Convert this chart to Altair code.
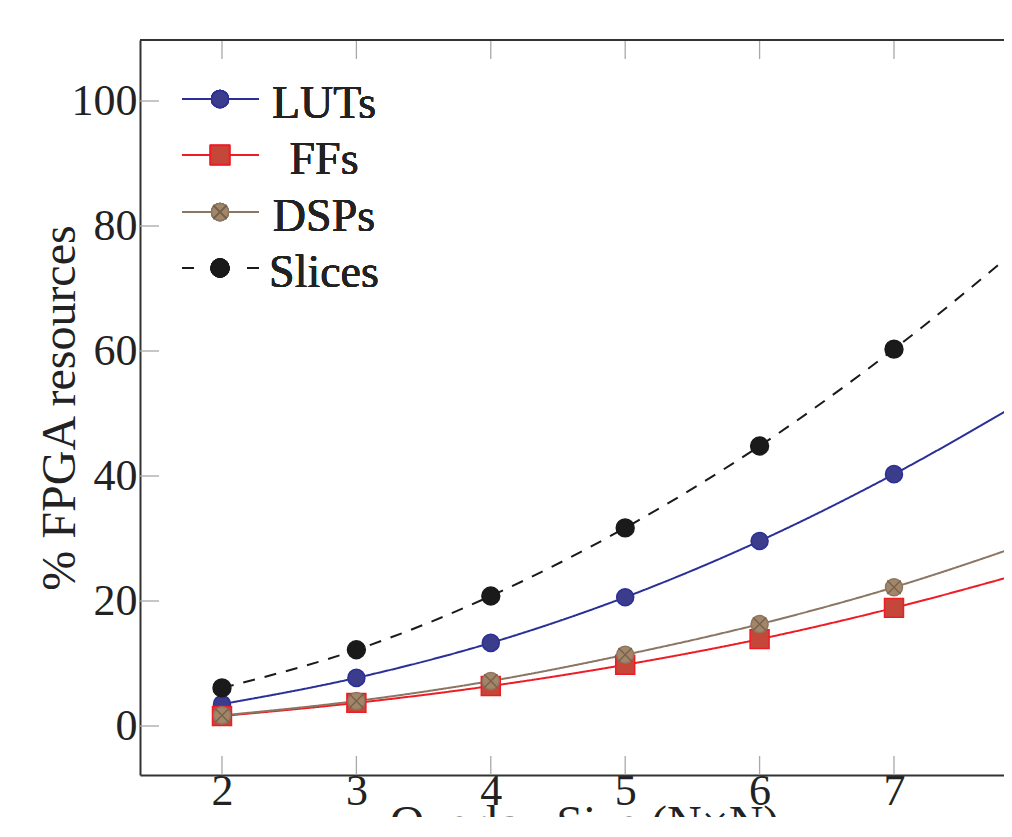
import altair as alt
import pandas as pd

# ---- data ----
sizes = [2, 3, 4, 5, 6, 7, 8]
luts = [3.5, 7.7, 13.3, 20.6, 29.6, 40.3, 52.5]
ffs = [1.6, 3.7, 6.4, 9.8, 13.9, 18.9, 24.7]
dsps = [1.7, 4.0, 7.2, 11.4, 16.3, 22.2, 29.3]
slices = [6.1, 12.2, 20.8, 31.7, 44.8, 60.3, 77.8]

series_names = ["LUTs", "FFs", "DSPs", "Slices"]
series_values = [luts, ffs, dsps, slices]
y_tick_values = [0, 20, 40, 60, 80, 100]
x_tick_values = [2, 3, 4, 5, 6, 7]

# ---- styles ----
line_colors = {"LUTs": "#2b2f98", "FFs": "#ee1c25", "DSPs": "#8c7663", "Slices": "#1a1a1a"}
fill_colors = {"LUTs": "#3c3c8c", "FFs": "#c4473a", "DSPs": "#a38667", "Slices": "#1a1a1a"}
shapes = {"LUTs": "circle", "FFs": "square", "DSPs": "circle", "Slices": "circle"}
sizes_pt = {"LUTs": 290, "FFs": 360, "DSPs": 290, "Slices": 320}
dashes = {"LUTs": [1, 0], "FFs": [1, 0], "DSPs": [1, 0], "Slices": [12, 10]}
cross_path = "M-0.78,-0.78L0.78,0.78M-0.78,0.78L0.78,-0.78"

FONT = "Liberation Serif"
W, H = 864, 735

xs = alt.Scale(domain=[1.39, 7.8185], nice=False, zero=False)
ys = alt.Scale(domain=[-7.84, 109.76], nice=False, zero=False)

x_axis = alt.Axis(values=x_tick_values, ticks=False, tickSize=0, grid=False,
                  domainColor="#333333", domainWidth=2, labelFont=FONT,
                  labelFontSize=44, labelColor="#222222", labelPadding=-6,
                  labelFlush=False, labelOverlap=False,
                  title="Overlay Size (N×N)", titleFont=FONT, titleFontSize=48,
                  titleFontWeight="normal", titleColor="#222222",
                  titleX=444, titleY=63, titleAlign="center",
                  titleBaseline="alphabetic", titleAngle=0)
y_axis = alt.Axis(values=y_tick_values, ticks=False, tickSize=0, grid=False,
                  domainColor="#333333", domainWidth=2, labelFont=FONT,
                  labelFontSize=44, labelColor="#222222", labelPadding=3,
                  labelFlush=False, labelOverlap=False,
                  title="% FPGA resources", titleFont=FONT, titleFontSize=48,
                  titleFontWeight="normal", titleColor="#222222",
                  titleX=-80, titleY=H / 2, titleAlign="center",
                  titleBaseline="middle", titleAngle=270)


def X(field):
    return alt.X(field, type="quantitative", scale=xs, axis=x_axis)


def Y(field):
    return alt.Y(field, type="quantitative", scale=ys, axis=y_axis)


layers = []

# inward tick marks
yt = pd.DataFrame({"v": y_tick_values})
xt = pd.DataFrame({"v": x_tick_values})
tick_color = "#a8a8a8"
layers.append(alt.Chart(yt).mark_rule(color=tick_color, strokeWidth=1.3).encode(
    y=Y("v"), x=alt.value(0), x2=alt.value(19)))
layers.append(alt.Chart(xt).mark_rule(color=tick_color, strokeWidth=1.3).encode(
    x=X("v"), y=alt.value(H - 19), y2=alt.value(H)))
layers.append(alt.Chart(xt).mark_rule(color=tick_color, strokeWidth=1.3).encode(
    x=X("v"), y=alt.value(0), y2=alt.value(19)))
# top frame line
layers.append(alt.Chart(yt).mark_rule(color="#333333", strokeWidth=2).encode(
    x=alt.value(0), x2=alt.value(W), y=alt.value(0)))

# series: lines then markers
for name, vals in zip(series_names, series_values):
    df = pd.DataFrame({"size": sizes, "value": vals})
    layers.append(alt.Chart(df).mark_line(
        color=line_colors[name], strokeWidth=2, strokeDash=dashes[name],
        interpolate="monotone", clip=True).encode(x=X("size"), y=Y("value")))

for name, vals in zip(series_names, series_values):
    df = pd.DataFrame({"size": sizes, "value": vals})
    layers.append(alt.Chart(df).mark_point(
        shape=shapes[name], filled=True, fill=fill_colors[name], fillOpacity=1,
        stroke=line_colors[name], strokeWidth=1.5, size=sizes_pt[name],
        opacity=1, clip=True).encode(x=X("size"), y=Y("value")))
    if name == "DSPs":
        layers.append(alt.Chart(df).mark_point(
            shape=cross_path, filled=False, stroke="#76624f", strokeWidth=1.4,
            size=sizes_pt[name], opacity=1, clip=True).encode(
            x=X("size"), y=Y("value")))

# legend (top-left, inside the plot)
leg_rows_y = [59, 115, 172, 228]
leg_line_x = (42, 119)
leg_mark_x = 80
leg_text_x = 184
for name, ry in zip(series_names, leg_rows_y):
    if name == "Slices":
        layers.append(alt.Chart(yt).mark_rule(color=line_colors[name], strokeWidth=2,
                                              strokeDash=[12, 53]).encode(
            x=alt.value(leg_line_x[0]), x2=alt.value(leg_line_x[1]), y=alt.value(ry)))
    else:
        layers.append(alt.Chart(yt).mark_rule(color=line_colors[name], strokeWidth=2).encode(
            x=alt.value(leg_line_x[0]), x2=alt.value(leg_line_x[1]), y=alt.value(ry)))
    layers.append(alt.Chart(yt).mark_point(
        shape=shapes[name], filled=True, fill=fill_colors[name], fillOpacity=1,
        stroke=line_colors[name], strokeWidth=1.5, size=sizes_pt[name], opacity=1).encode(
        x=alt.value(leg_mark_x), y=alt.value(ry)))
    if name == "DSPs":
        layers.append(alt.Chart(yt).mark_point(
            shape=cross_path, filled=False, stroke="#76624f", strokeWidth=1.4,
            size=sizes_pt[name], opacity=1).encode(
            x=alt.value(leg_mark_x), y=alt.value(ry)))
    layers.append(alt.Chart(yt).mark_text(
        text=name, font=FONT, fontSize=46, color="#222222", align="center",
        baseline="alphabetic").encode(x=alt.value(leg_text_x), y=alt.value(ry + 19)))

chart = alt.layer(*layers).properties(
    width=W, height=H,
    autosize=alt.AutoSizeParams(type="none"),
    padding={"left": 132, "top": 32, "right": 0, "bottom": 42},
).configure_view(strokeOpacity=0)

chart.save("out.html", embed_options={"renderer": "svg", "actions": False})
